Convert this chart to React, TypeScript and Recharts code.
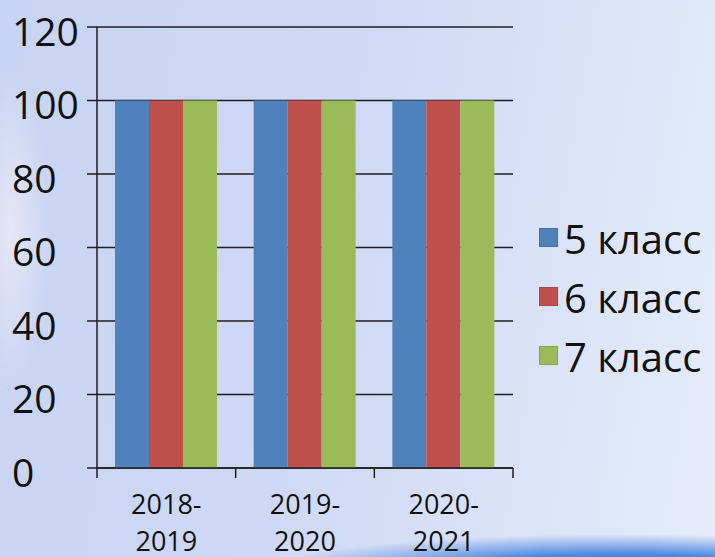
import React from 'react';
import { BarChart, Bar, XAxis, YAxis, CartesianGrid } from 'recharts';

const categories = ['2018-2019', '2019-2020', '2020-2021'];
const class5 = [100, 100, 100];
const class6 = [100, 100, 100];
const class7 = [100, 100, 100];
const seriesNames = ['5 класс', '6 класс', '7 класс'];
const seriesKeys = ['s5', 's6', 's7'];
const seriesColors = ['#4F81BD', '#C0504D', '#9BBB59'];
const yTicks = [0, 20, 40, 60, 80, 100, 120];

const data = categories.map((c, i) => ({ cat: c, s5: class5[i], s6: class6[i], s7: class7[i] }));

const FONT = '"Open Sans", "Noto Sans", sans-serif';
const LINE = '#1e1e1e';

const YTick = (props: any) => {
  const { x, y, payload } = props;
  return (
    <text x={x - 73} y={y + 3} textAnchor="start" dominantBaseline="central" fontFamily={FONT} fontSize={39} fill="#111">
      {payload.value}
    </text>
  );
};

const XTick = (props: any) => {
  const { x, y, payload, index } = props;
  const half = payload.offset ?? 0;
  const parts = String(payload.value).split('-');
  const isLast = index === categories.length - 1;
  return (
    <g>
      <line x1={x - half} x2={x - half} y1={y} y2={y + 10} stroke={LINE} strokeWidth={1.5} />
      {isLast && <line x1={x + half} x2={x + half} y1={y} y2={y + 10} stroke={LINE} strokeWidth={1.5} />}
      <text x={x} y={y + 35} textAnchor="middle" dominantBaseline="central" fontFamily={FONT} fontSize={27} fill="#111">
        {parts[0] + '-'}
      </text>
      <text x={x} y={y + 72} textAnchor="middle" dominantBaseline="central" fontFamily={FONT} fontSize={27} fill="#111">
        {parts[1]}
      </text>
    </g>
  );
};

export default function App() {
  return (
    <div
      style={{
        position: 'absolute',
        left: 0,
        top: 0,
        width: 715,
        height: 557,
        overflow: 'hidden',
        background:
          'radial-gradient(ellipse 360px 40px at 620px 574px, #2f6fd6 0%, #4f8ae0 50%, rgba(120,160,230,0) 100%),' +
          'radial-gradient(ellipse 40px 160px at 10px 230px, rgba(255,245,250,0.55) 0%, rgba(255,255,255,0) 100%),' +
          'linear-gradient(100deg, #c8d4f3 0%, #cfd9f5 45%, #dbe3f8 75%, #e6ecfa 100%)',
      }}
    >
      <BarChart
        width={715}
        height={557}
        data={data}
        margin={{ top: 27, right: 202, bottom: 9, left: 0 }}
        barGap={0}
        barSize={34}
      >
        <CartesianGrid vertical={false} stroke={LINE} strokeWidth={1.5} />
        <XAxis
          dataKey="cat"
          height={80}
          axisLine={{ stroke: LINE, strokeWidth: 1.5 }}
          tickLine={false}
          tickSize={0}
          tickMargin={0}
          tick={<XTick />}
          interval={0}
        />
        <YAxis
          width={97}
          domain={[0, 120]}
          ticks={yTicks}
          interval={0}
          axisLine={{ stroke: LINE, strokeWidth: 1.5 }}
          tickLine={{ stroke: LINE, strokeWidth: 1.5 }}
          tickSize={10}
          tick={<YTick />}
        />
        {seriesKeys.map((k, i) => (
          <Bar key={k} dataKey={k} name={seriesNames[i]} fill={seriesColors[i]} isAnimationActive={false} />
        ))}
      </BarChart>
      <div style={{ position: 'absolute', left: 539, top: 209 }}>
        {seriesNames.map((n, i) => (
          <div key={n} style={{ display: 'flex', alignItems: 'center', height: 59 }}>
            <div
              style={{
                width: 19,
                height: 19,
                background: seriesColors[i],
                border: '1px solid rgba(0,0,0,0.12)',
                boxSizing: 'border-box',
                marginRight: 6,
                marginTop: -2,
              }}
            />
            <span style={{ fontFamily: FONT, fontSize: 40, color: '#111', lineHeight: '59px' }}>{n}</span>
          </div>
        ))}
      </div>
    </div>
  );
}
